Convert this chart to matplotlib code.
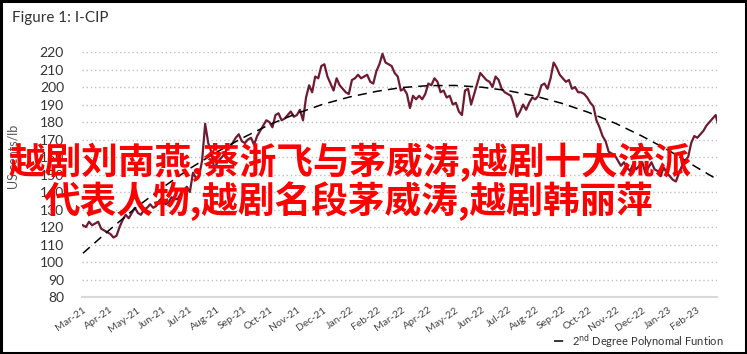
import numpy as np
import pandas as pd
import matplotlib
matplotlib.use("Agg")
from matplotlib import pyplot as plt
from matplotlib.patches import Rectangle
import matplotlib.dates as mdates

# I-CIP price, US cents/lb, twice a week (Mar-21 .. Feb-23)
prices = [121, 120, 123, 121, 122, 123, 119, 118, 117, 116,
          114, 115, 120, 124, 127, 125, 128, 131, 128, 127,
          130, 131, 133, 131, 132, 135, 137, 133, 134, 137,
          136, 136, 139, 141, 143, 140, 151, 148, 149, 158,
          179, 168, 163, 153, 157, 159, 161, 164, 166, 168,
          171, 173, 169, 168, 170, 171, 167, 172, 175, 178,
          181, 180, 177, 184, 185, 181, 182, 184, 186, 183,
          184, 187, 181, 194, 201, 197, 206, 205, 212, 213,
          206, 202, 198, 205, 201, 199, 197, 196, 204, 205,
          207, 205, 206, 207, 203, 202, 209, 213, 219, 214,
          213, 212, 208, 206, 198, 199, 196, 188, 195, 193,
          195, 193, 196, 202, 201, 205, 203, 197, 198, 194,
          195, 190, 191, 186, 184, 198, 199, 190, 196, 202,
          208, 206, 204, 203, 200, 206, 204, 199, 197, 196,
          195, 190, 183, 186, 190, 187, 191, 194, 193, 195,
          201, 202, 199, 205, 214, 211, 207, 205, 203, 204,
          199, 200, 197, 197, 196, 194, 191, 189, 181, 177,
          172, 169, 163, 162, 161, 158, 155, 157, 154, 152,
          156, 153, 155, 157, 151, 154, 157, 153, 152, 149,
          154, 151, 149, 147, 146, 151, 155, 158, 160, 168,
          172, 171, 173, 175, 178, 180, 182, 184, 177]
price_dates = pd.date_range("2021-03-01", periods=len(prices), freq="84h")

# 2nd degree polynomial trend, read at the start of each month
trend = [105.0, 118.6, 131.2, 142.8, 153.3, 162.8, 171.2, 178.6, 184.9, 190.2,
         194.4, 197.6, 199.7, 200.8, 200.9, 199.9, 197.9, 194.8, 190.6, 185.5,
         179.2, 172.0, 163.7, 154.3, 146.1]
trend_dates = pd.date_range("2021-03-01", periods=len(trend), freq="MS")

yticks = list(range(80, 221, 10))

title = "Figure 1: I-CIP"
ylabel = "US cents/lb"
overlay1 = "越剧刘南燕,蔡浙飞与茅威涛,越剧十大流派"
overlay2 = "代表人物,越剧名段茅威涛,越剧韩丽萍"

plt.rcParams["font.family"] = ["Lato", "DejaVu Sans"]

fig = plt.figure(figsize=(7.47, 3.54), dpi=100)
ax = fig.add_axes([0.1098, 0.161, 0.85, 0.692])

ax.plot(price_dates, prices, color="#6e1a30", lw=1.6, zorder=3)
ax.plot(trend_dates, trend, color="black", lw=1.1, dashes=(6, 4), zorder=4)

ax.set_ylim(80, 220)
ax.set_yticks(yticks)
ax.set_xlim(pd.Timestamp("2021-02-28"), pd.Timestamp("2023-02-25"))
ax.xaxis.set_major_locator(mdates.MonthLocator())
ax.xaxis.set_major_formatter(mdates.DateFormatter("%b-%y"))

ax.grid(axis="y", color="#c0c0c0", lw=1.0, ls=(0, (1, 2)))
for s in ["top", "right", "left"]:
    ax.spines[s].set_visible(False)
ax.spines["bottom"].set_color("#d9d9d9")
ax.spines["bottom"].set_linewidth(1.5)
ax.tick_params(axis="both", length=0)
ax.tick_params(axis="y", labelsize=10, colors="#333333", pad=13)
ax.tick_params(axis="x", labelsize=7.5, colors="#444444", pad=6)
for lab in ax.get_xticklabels():
    lab.set_rotation(35)
    lab.set_ha("right")
    lab.set_va("top")
    lab.set_rotation_mode("anchor")

fig.text(0.016, 0.949, title, fontsize=11, color="#333333", va="center")
fig.text(0.018, 0.556, ylabel, fontsize=9, color="#555555", rotation=90,
         va="center", ha="center")

# legend at bottom right, below the month labels
ax.legend([ax.lines[1]], ["2$^{\\rm nd}$ Degree Polynomal Funtion"],
          loc="center right", bbox_to_anchor=(0.968, 0.036),
          bbox_transform=fig.transFigure, frameon=False, fontsize=8,
          handlelength=1.2, handletextpad=0.4, labelcolor="#333333",
          borderpad=0, borderaxespad=0)

# red overlay text
cjk = ["Noto Sans CJK SC", "DejaVu Sans"]
fig.text(0.468, 0.542, overlay1, family=cjk, fontsize=26.4, fontweight="bold",
         color="#ff0000", ha="center", va="center", zorder=10)
fig.text(0.467, 0.432, overlay2, family=cjk, fontsize=26.4, fontweight="bold",
         color="#ff0000", ha="center", va="center", zorder=10)

fig.patches.append(Rectangle((0.002, 0.003), 0.996, 0.994, transform=fig.transFigure,
                             fill=False, edgecolor="black", lw=2.2, zorder=20))

fig.savefig("out.png", dpi=100)
